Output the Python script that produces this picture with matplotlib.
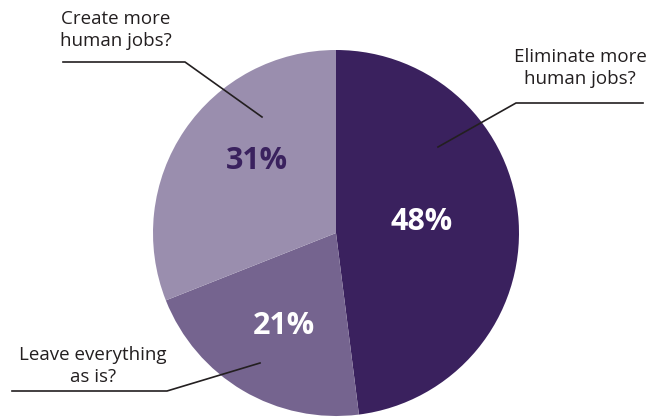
import numpy as np
import matplotlib.pyplot as plt

# survey answers, clockwise from 12 o'clock
answers = ['Eliminate more\nhuman jobs?', 'Leave everything\nas is?', 'Create more\nhuman jobs?']
shares = [48, 21, 31]
colors = ['#3a215e', '#75648f', '#9a8eae']
pct_colors = ['white', 'white', '#3a215e']
pct_radius = [0.47, 0.58, 0.585]   # how far out the % labels sit
pct_nudge = [3.8, 1.4, -8.1]       # degrees off the wedge middle

W, H = 661, 419
plt.rcParams['font.family'] = ['Open Sans', 'DejaVu Sans']

fig = plt.figure(figsize=(W / 100, H / 100), dpi=100)
ax = fig.add_axes([0, 0, 1, 1])

def fy(y):
    # screen pixel row -> data y
    return H - y

cx, cy, r = 336, fy(233), 183
wedges, _ = ax.pie(shares, colors=colors, startangle=90, counterclock=False,
                   center=(cx, cy), radius=r, wedgeprops=dict(linewidth=0))

for w, s, c, k, d in zip(wedges, shares, pct_colors, pct_radius, pct_nudge):
    mid = np.deg2rad((w.theta1 + w.theta2) / 2 + d)
    ax.text(cx + k * r * np.cos(mid), cy + k * r * np.sin(mid), f'{s}%',
            ha='center', va='center', fontsize=22, fontweight='bold', color=c)

# callout labels: text centre, leader path (tip inside wedge, elbow, outer end)
callouts = [
    ((580, 68), [(438, 147), (516, 103), (643, 103)]),
    ((93, 366), [(260, 363), (167, 391), (12, 391)]),
    ((116, 30), [(262, 117), (185, 62), (63, 62)]),
]
for label, (pos, path) in zip(answers, callouts):
    ax.text(pos[0], fy(pos[1]), label, ha='center', va='center', fontsize=13.5,
            color='#231f20', linespacing=1.25)
    xs = [p[0] for p in path]
    ys = [fy(p[1]) for p in path]
    ax.plot(xs, ys, color='#231f20', lw=1.2)

ax.set_xlim(0, W)
ax.set_ylim(0, H)
ax.set_aspect('auto')
ax.axis('off')

fig.savefig('out.png', dpi=100)
